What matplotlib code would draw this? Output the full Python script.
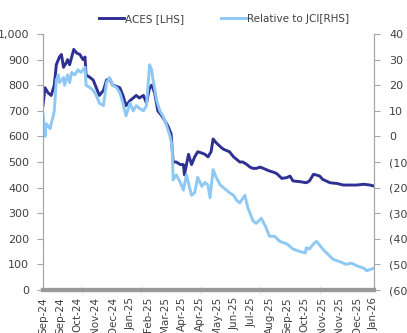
import matplotlib
matplotlib.use('Agg')

import matplotlib.pyplot as plt
from matplotlib.ticker import FuncFormatter


# trading-day index (category axis) and values
aces_day = [0, 2, 5, 8, 11, 13, 16, 18, 20, 23, 24, 26, 28, 30, 33, 36, 39, 41, 42, 46,
            49, 52, 55, 59, 62, 65, 68, 72, 75, 78, 81, 85, 88, 91, 94, 98, 101, 104, 106, 109,
            112, 116, 119, 122, 125, 127, 130, 134, 137, 138, 142, 145, 148, 151, 155, 158, 161, 164, 166, 169,
            173, 176, 179, 182, 186, 189, 192, 195, 199, 202, 205, 208, 212, 215, 218, 221, 225, 228, 233, 238,
            241, 244, 251, 257, 260, 264, 267, 270, 273, 280, 287, 293, 300, 306, 313, 319, 323]
aces_px = [720, 790, 770, 760, 800, 880, 910, 920, 870, 890, 900, 880, 910, 940, 925, 920, 900, 910, 840, 830,
           820, 790, 760, 780, 820, 825, 800, 795, 790, 760, 720, 740, 750, 760, 750, 760, 730, 790, 800, 770,
           700, 680, 660, 640, 610, 500, 500, 490, 490, 450, 530, 490, 520, 540, 535, 530, 520, 540, 590, 575,
           560, 550, 545, 540, 520, 510, 500, 500, 490, 480, 475, 475, 480, 475, 470, 465, 460, 455, 436, 439,
           445, 426, 423, 419, 426, 452, 449, 445, 432, 419, 416, 410, 410, 410, 413, 410, 406]

rel_day = [0, 2, 3, 5, 7, 8, 10, 11, 13, 15, 16, 20, 21, 24, 26, 28, 31, 34, 37, 41,
           42, 46, 49, 52, 55, 59, 62, 65, 68, 72, 75, 78, 81, 85, 88, 91, 94, 98, 101, 104,
           106, 107, 111, 114, 117, 120, 124, 126, 127, 130, 134, 137, 140, 143, 145, 148, 151, 155, 158, 161,
           163, 166, 169, 173, 176, 179, 182, 186, 189, 192, 197, 200, 205, 208, 213, 217, 221, 226, 231, 238,
           244, 251, 256, 257, 260, 264, 267, 270, 273, 278, 283, 290, 296, 301, 306, 313, 316, 319, 323]
rel_jci = [8.7, 0, 5, 4, 3, 5, 8, 10, 22, 24, 21, 23, 20, 24, 21, 25, 24, 26, 25, 27,
           20, 19, 18, 16, 13, 12, 21, 23, 20, 19, 17, 13, 8, 13, 10, 12, 11, 10, 12, 28,
           26, 23, 14, 10, 8, 5, 0, -4, -17, -15, -18, -21, -15, -20, -23, -22, -16, -19.5, -18, -19,
           -24, -13, -16, -19, -20, -21, -22, -23, -25, -26, -23, -28, -33, -34, -32, -35, -39, -39, -41, -42,
           -44, -45, -45.5, -43.5, -44, -42, -41, -42.5, -44, -46, -48, -49, -50, -49.5, -50.5, -51.5, -52.5, -52, -51.5]

label_day = list(range(0, 324, 17))
label_text = ['Sep-24', 'Sep-24', 'Oct-24', 'Nov-24', 'Dec-24', 'Jan-25', 'Feb-25', 'Mar-25',
              'Apr-25', 'Apr-25', 'May-25', 'Jun-25', 'Jul-25', 'Aug-25', 'Sep-25', 'Oct-25',
              'Nov-25', 'Nov-25', 'Dec-25', 'Jan-26']
tick_day = [38, 96, 154, 212, 270]

dark = '#2e3192'
light = '#8ec8f5'
grey = '#a6a6a6'

fig = plt.figure(figsize=(4.07, 3.33), dpi=100)
ax = fig.add_axes([43 / 407, 1 - 290 / 333, 331 / 407, 256 / 333])
ax2 = ax.twinx()

l1, = ax.plot(aces_day, aces_px, color=dark, lw=2.1, label='ACES [LHS]')
l2, = ax2.plot(rel_day, rel_jci, color=light, lw=2.1, label='Relative to JCI[RHS]')

ax.set_xlim(0, 323)
ax.set_ylim(0, 1000)
ax.set_yticks(range(0, 1001, 100))
ax.yaxis.set_major_formatter(FuncFormatter(lambda v, p: '{:,.0f}'.format(v)))
ax2.set_ylim(-60, 40)
ax2.set_yticks(range(-60, 41, 10))
ax2.yaxis.set_major_formatter(FuncFormatter(lambda v, p: '(%d)' % abs(v) if v < 0 else '%d' % v))

ax.set_xticks(label_day)
ax.set_xticklabels(label_text, rotation=90, fontsize=7.5, color='#404040')
ax.set_xticks(tick_day, minor=True)
ax.tick_params(axis='x', which='major', length=0, pad=5)
ax.tick_params(axis='x', which='minor', direction='inout', length=6, width=1, color='#e6e6e6')

for a in (ax, ax2):
    a.spines['top'].set_visible(False)
    a.tick_params(axis='y', length=4, width=0.8, color=grey, labelsize=8, labelcolor='#404040')
    for s in ('left', 'right'):
        a.spines[s].set_color(grey)
        a.spines[s].set_linewidth(0.8)
    a.spines['bottom'].set_color('#999999')
    a.spines['bottom'].set_linewidth(3)
ax.tick_params(axis='y', pad=6)
ax2.tick_params(axis='y', pad=7)

fig.legend(handles=[l1, l2], loc='center', bbox_to_anchor=(224 / 407, 1 - 19 / 333),
           ncol=2, frameon=False, fontsize=7.5, handlelength=2.4, handletextpad=0.1,
           columnspacing=3.6, labelcolor='#404040')

plt.savefig('out.png', dpi=100)
